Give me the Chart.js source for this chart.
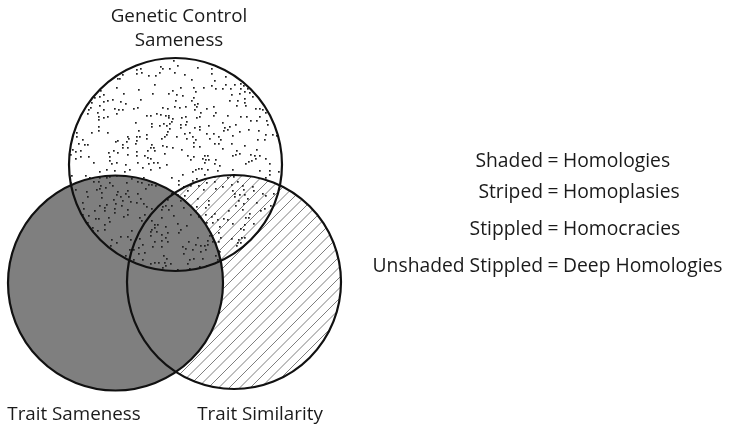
<!DOCTYPE html>
<html><head><meta charset="utf-8">
<script src="https://cdn.jsdelivr.net/npm/chart.js@4"></script>
<style>html,body{margin:0;padding:0;background:#fff}#wrap{width:730px;height:428px;position:relative}</style>
</head><body><div id="wrap"><canvas id="c"></canvas></div>
<script>
// ---- data ----
const setNames = ["Genetic Control Sameness", "Trait Sameness", "Trait Similarity"];
const centerX = [175.5, 115.5, 234];
const centerY = [164.5, 283, 282];
const radius = [106.5, 107.5, 107];
const setLabelLines = [["Genetic Control", "Sameness"], ["Trait Sameness"], ["Trait Similarity"]];
const legendTerms = ["Shaded", "Striped", "Stippled", "Unshaded Stippled"];
const legendMeanings = ["Homologies", "Homoplasies", "Homocracies", "Deep Homologies"];

// ---- layout / style (not data) ----
const FONT = '"Open Sans", "Noto Sans", sans-serif';
const labelPos = [[[179, 22], [179, 46]], [[74, 420]], [[260, 420]]];
const legendEqX = 553;
const legendBaselines = [167, 198, 235, 272];

function rng(seed) { // deterministic texture generator (mulberry32)
  return function () {
    seed |= 0; seed = seed + 0x6D2B79F5 | 0;
    let t = Math.imul(seed ^ seed >>> 15, 1 | seed);
    t = t + Math.imul(t ^ t >>> 7, 61 | t) ^ t;
    return ((t ^ t >>> 14) >>> 0) / 4294967296;
  };
}

const vennPlugin = {
  id: 'venn',
  afterDatasetsDraw(chart) {
    const ctx = chart.ctx, xs = chart.scales.x, ys = chart.scales.y;
    const px = i => xs.getPixelForValue(centerX[i]);
    const py = i => ys.getPixelForValue(centerY[i]);
    const pr = i => Math.abs(xs.getPixelForValue(centerX[i] + radius[i]) - xs.getPixelForValue(centerX[i]));
    const circ = i => { ctx.beginPath(); ctx.arc(px(i), py(i), pr(i), 0, Math.PI * 2); };

    ctx.save();
    // Trait Similarity: striped
    circ(2); ctx.fillStyle = '#fff'; ctx.fill();
    ctx.save(); circ(2); ctx.clip();
    ctx.strokeStyle = '#707070'; ctx.lineWidth = 0.9;
    const x0 = px(2) - pr(2), x1 = px(2) + pr(2), y0 = py(2) - pr(2), y1 = py(2) + pr(2);
    ctx.beginPath();
    for (let s = x0 - (y1 - y0); s < x1 + 10; s += 10.5) {
      ctx.moveTo(s, y1); ctx.lineTo(s + (y1 - y0), y0);
    }
    ctx.stroke();
    ctx.restore();

    // Trait Sameness: shaded
    circ(1); ctx.fillStyle = '#7f7f7f'; ctx.fill();

    // Genetic Control Sameness: stippled
    ctx.save(); circ(0); ctx.clip();
    const r = rng(2024);
    const cx = px(0), cy = py(0), R = pr(0);
    ctx.fillStyle = '#222';
    const pts = [];
    let tries = 0;
    while (pts.length < 680 && tries < 20000) {
      tries++;
      const dx = cx + (r() * 2 - 1) * R, dy = cy + (r() * 2 - 1) * R;
      // soft blotchy mask for stipple texture
      const m = Math.sin(dx * 0.11) * Math.cos(dy * 0.13) + Math.sin((dx + dy) * 0.07);
      if (m < -0.9 && r() < 0.8) continue;
      let ok = true;
      for (const p of pts) { if ((p[0] - dx) ** 2 + (p[1] - dy) ** 2 < 8) { ok = false; break; } }
      if (!ok) continue;
      pts.push([dx, dy]);
    }
    pts.forEach(p => ctx.fillRect(Math.round(p[0]), Math.round(p[1]), 1.7, 1.7));
    ctx.restore();

    // outlines
    ctx.strokeStyle = '#111'; ctx.lineWidth = 2.2;
    for (let i = 0; i < 3; i++) { circ(i); ctx.stroke(); }

    // set labels
    ctx.fillStyle = '#1a1a1a';
    ctx.textBaseline = 'alphabetic';
    ctx.font = '18.8px ' + FONT;
    ctx.textAlign = 'center';
    setLabelLines.forEach((lines, i) => lines.forEach((t, j) => ctx.fillText(t, labelPos[i][j][0], labelPos[i][j][1])));

    // legend
    ctx.font = '19.3px ' + FONT;
    legendTerms.forEach((t, i) => {
      const y = legendBaselines[i];
      ctx.textAlign = 'center'; ctx.fillText('=', legendEqX, y);
      ctx.textAlign = 'right'; ctx.fillText(t, legendEqX - 10, y);
      ctx.textAlign = 'left'; ctx.fillText(legendMeanings[i], legendEqX + 10, y);
    });
    ctx.restore();
  }
};

new Chart(document.getElementById('c'), {
  type: 'scatter',
  data: {
    datasets: [{
      label: 'Set centres',
      data: centerX.map((x, i) => ({ x, y: centerY[i], name: setNames[i] })),
      pointRadius: 0
    }]
  },
  options: {
    responsive: true, maintainAspectRatio: false, animation: false,
    layout: { padding: 0 },
    plugins: { legend: { display: false }, tooltip: { enabled: false } },
    scales: {
      x: { type: 'linear', min: 0, max: 730, display: false },
      y: { type: 'linear', min: 0, max: 428, reverse: true, display: false }
    }
  },
  plugins: [vennPlugin]
});
</script>
</body></html>
